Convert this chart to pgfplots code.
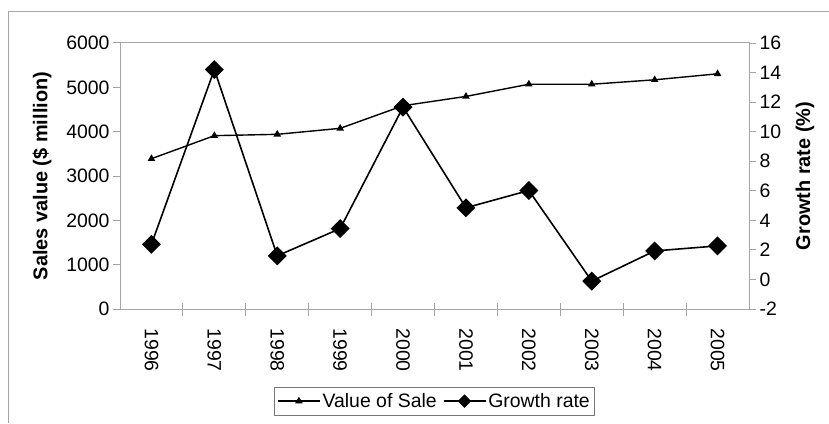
\documentclass[border=0pt]{standalone}
\usepackage{pgfplots}
\pgfplotsset{compat=1.18}
\usepackage{fontspec}
\setmainfont{Liberation Sans}
\definecolor{axgray}{RGB}{165,165,165}
\definecolor{leggray}{RGB}{120,120,120}
\begin{document}
\begin{tikzpicture}[x=1bp,y=1bp]
\useasboundingbox (0,0) rectangle (829,423);
\draw[axgray, line width=1bp] (8,0) -- (8,411) -- (829,411);
\pgfplotsset{
  common/.style={
    scale only axis, width=629bp, height=266bp,
    at={(120bp,114bp)}, anchor=south west,
    xmin=-0.5, xmax=9.5,
    /pgf/number format/assume math mode=true,
    tick label style={font=\fontsize{19.5}{21}\selectfont, black},
    label style={font=\bfseries\fontsize{20}{22}\selectfont},
    axis line style={axgray, line width=1bp},
    major tick length=7bp,
    tick align=outside,
    every tick/.style={axgray, line width=1bp},
  },
  valstyle/.style={black, line width=1.4bp, mark=triangle*, mark size=3bp, mark options={solid}},
  grstyle/.style={black, line width=1.6bp, mark=square*, mark size=5.9bp, mark options={solid, rotate=45}},
}
\begin{axis}[common,
  ymin=0, ymax=6000, ytick={0,1000,...,6000}, ytick pos=left,
  xtick={0,...,9},
  xticklabels={1996,1997,1998,1999,2000,2001,2002,2003,2004,2005},
  xtick pos=bottom,
  major x tick style={draw=none},
  minor x tick num=1,
  minor tick length=13bp,
  minor x tick style={yshift=6bp, axgray, line width=1bp},
  xticklabel style={rotate=-90, anchor=west},
  xticklabel shift=9bp,
  ylabel={Sales value (\$ million)},
  ylabel style={at={(axis description cs:-0.124,0.5)}, anchor=center, rotate=0},
  scaled y ticks=false,
  yticklabel style={/pgf/number format/1000 sep={}},
]
\addplot[valstyle] coordinates {
(0,3390) (1,3910) (2,3940) (3,4075) (4,4585) (5,4795) (6,5070) (7,5070) (8,5170) (9,5305)
};
\end{axis}
\begin{axis}[common,
  axis x line=none, axis y line*=right,
  ymin=-2, ymax=16, ytick={-2,0,...,16},
  ylabel={Growth rate (\%)},
  ylabel style={at={(axis description cs:1.089,0.5)}, anchor=center, rotate=0},
  legend columns=2,
  legend style={at={(axis description cs:0.5,-0.293)}, anchor=north,
    draw=leggray, line width=0.8bp, font=\fontsize{19.5}{21}\selectfont,
    inner xsep=3bp, inner ysep=4bp,
    /tikz/every even column/.append style={column sep=4bp}},
  legend image code/.code={\draw[mark repeat=2,mark phase=2,#1] plot coordinates {(0bp,0bp) (21bp,0bp) (42bp,0bp)};},
]
\addlegendimage{valstyle}
\addlegendentry{Value of Sale}
\addlegendimage{grstyle, mark size=4bp}
\addlegendentry{Growth rate}
\addplot[grstyle, forget plot] coordinates {
(0,2.38) (1,14.2) (2,1.6) (3,3.44) (4,11.66) (5,4.85) (6,6.02) (7,-0.11) (8,1.93) (9,2.27)
};
\end{axis}
\end{tikzpicture}
\end{document}
